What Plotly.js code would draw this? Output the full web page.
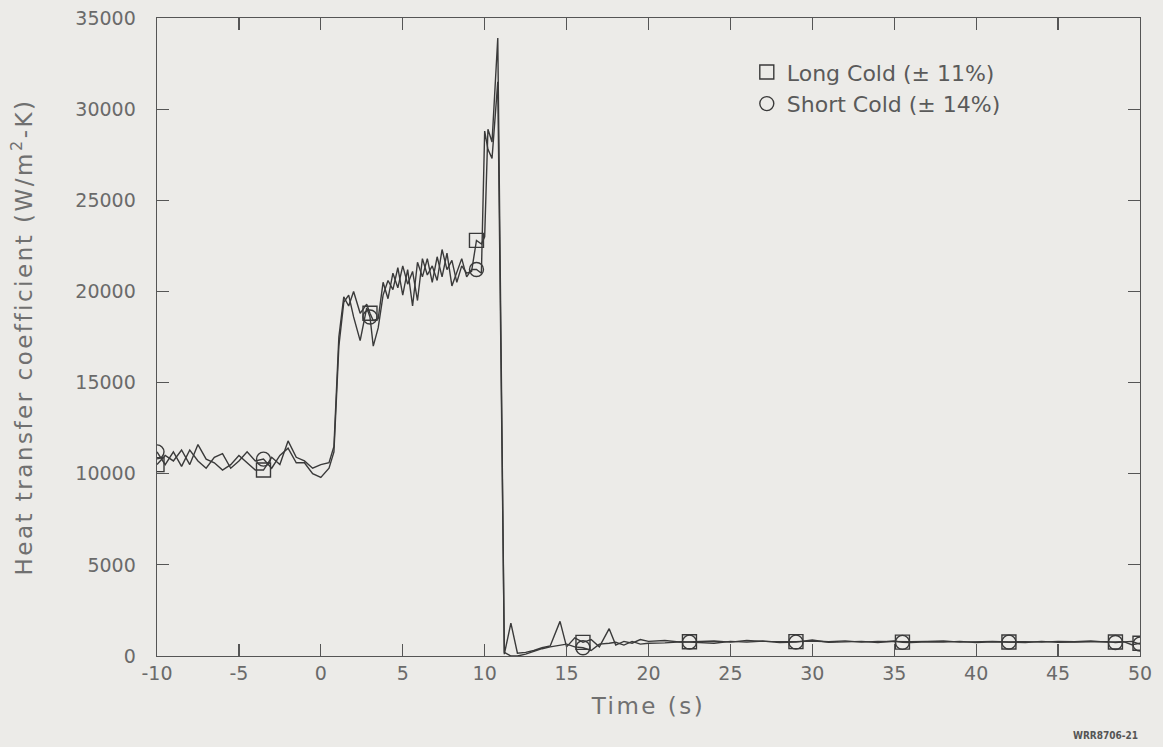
<!DOCTYPE html>
<html>
<head>
<meta charset="utf-8">
<script src="https://cdn.plot.ly/plotly-3.0.1.min.js"></script>
<style>
  html, body { margin: 0; padding: 0; background: #ecebe8; }
  #chart { width: 1163px; height: 747px; }
  /* open up the lettering of the axis titles */
  #chart .g-ytitle text { letter-spacing: 2.5px; }
  #chart .g-xtitle text { letter-spacing: 2.5px; }
</style>
</head>
<body>
<div id="chart"></div>
<script>
// Time base (s) shared by both cold-leg series
const time = [
  -10, -9.5, -9, -8.5, -8, -7.5, -7, -6.5, -6, -5.5, -5, -4.5, -4, -3.5, -3, -2.5, -2, -1.5, -1, -0.5, 0, 0.5,
  0.8, 1.1, 1.4, 1.7, 2.0, 2.4, 2.8, 3.0, 3.2, 3.5, 3.8, 4.1, 4.4, 4.7, 5.0, 5.3, 5.6, 5.9, 6.2, 6.5, 6.8,
  7.1, 7.4, 7.7, 8.0, 8.3, 8.6, 8.9, 9.2, 9.5, 9.8, 10.0, 10.2, 10.45, 10.8,
  11.2, 11.6, 12.0, 12.5, 13.0, 13.5, 14.0, 14.6, 15.0, 15.5, 16.0, 16.5, 17.0, 17.6, 18.0, 18.5, 19.0, 19.5,
  20, 21, 22, 22.5, 23, 24, 25, 26, 27, 28, 29, 30, 31, 32, 33, 34, 35, 35.5, 36, 37, 38, 39, 40,
  41, 42, 43, 44, 45, 46, 47, 48, 48.5, 49, 49.5, 50
];

// Heat transfer coefficient, long cold leg (W/m2-K)
const longCold = [
  10500, 11000, 10700, 11300, 10500, 11600, 10800, 10600, 10200, 10500, 11000, 10600, 10200, 10200, 10900, 10500, 11800, 10900, 10700, 10300, 10500, 10600,
  11500, 17500, 19700, 19200, 20000, 18800, 19300, 18800, 18400, 18500, 20500, 19600, 21000, 20200, 21400, 20400, 21100, 19500, 21800, 20900, 21400,
  20600, 22300, 21200, 21700, 20500, 21400, 21000, 21100, 22800, 22600, 23000, 28900, 28200, 33900,
  100, 1800, 150, 200, 300, 450, 550, 1900, 500, 1000, 750, 900, 500, 1500, 600, 800, 700, 900,
  800, 850, 760, 780, 790, 820, 760, 850, 800, 780, 790, 820, 780, 830, 760, 800, 780, 760, 790, 800, 820, 760, 780,
  800, 770, 790, 760, 800, 780, 820, 760, 770, 790, 620, 700
];

// Heat transfer coefficient, short cold leg (W/m2-K)
const shortCold = [
  11200, 10500, 11200, 10400, 11300, 10700, 10300, 10900, 11100, 10300, 10700, 11200, 10700, 10800, 10300, 11000, 11400, 10600, 10600, 10000, 9800, 10300,
  11200, 17000, 19400, 19800, 18600, 17300, 19100, 18600, 17000, 18000, 19800, 20600, 20100, 21300, 19800, 21200, 19200, 21600, 20800, 21800, 20500,
  21900, 20800, 22100, 20300, 21000, 21800, 20800, 21200, 21200, 21000, 28800, 27800, 27300, 31500,
  200, 0, 0, 100, 250, 400, 500, 600, 650, 500, 450, 300, 650, 700, 750, 600, 800, 650,
  700, 720, 780, 760, 750, 700, 800, 760, 820, 740, 760, 880, 750, 770, 800, 740, 820, 750, 740, 780, 760, 800, 740,
  780, 760, 740, 800, 750, 770, 760, 790, 740, 760, 800, 650
];

// Sample times that carry a symbol on each curve
const symbolTimes = [-10, -3.5, 3.0, 9.5, 16.0, 22.5, 29, 35.5, 42, 48.5, 50];

// Axis tick values
const xTicks = [-10, -5, 0, 5, 10, 15, 20, 25, 30, 35, 40, 45, 50];
const yTicks = [0, 5000, 10000, 15000, 20000, 25000, 30000, 35000];

const ink = '#3a3a3a';

function pick(values) {
  const xs = [], ys = [];
  symbolTimes.forEach(function (s) {
    const i = time.indexOf(s);
    if (i >= 0) { xs.push(time[i]); ys.push(values[i]); }
  });
  return { x: xs, y: ys };
}

const longPts = pick(longCold);
const shortPts = pick(shortCold);

const traces = [
  { x: time, y: longCold, mode: 'lines', line: { color: ink, width: 1.4 }, showlegend: false, hoverinfo: 'skip' },
  { x: time, y: shortCold, mode: 'lines', line: { color: ink, width: 1.4 }, showlegend: false, hoverinfo: 'skip' },
  { x: longPts.x, y: longPts.y, mode: 'markers', name: 'Long Cold (\u00b1 11%)',
    marker: { symbol: 'square-open', size: 14, color: ink, line: { color: ink, width: 1.4 } } },
  { x: shortPts.x, y: shortPts.y, mode: 'markers', name: 'Short Cold (\u00b1 14%)',
    marker: { symbol: 'circle-open', size: 14, color: ink, line: { color: ink, width: 1.4 } } }
];

const tickFont = { family: 'DejaVu Sans', size: 19, color: '#6a6a6a' };

const layout = {
  width: 1163,
  height: 747,
  paper_bgcolor: '#ecebe8',
  plot_bgcolor: '#ecebe8',
  margin: { l: 157, r: 23, t: 18, b: 91 },
  font: { family: 'DejaVu Sans', color: '#666' },
  showlegend: true,
  legend: {
    x: 0.60, y: 0.948, xanchor: 'left', yanchor: 'top',
    bgcolor: 'rgba(0,0,0,0)', borderwidth: 0,
    font: { family: 'DejaVu Sans', size: 22, color: '#5a5a5a' },
    tracegroupgap: 0, itemwidth: 30
  },
  xaxis: {
    range: [-10, 50], tickvals: xTicks, ticktext: xTicks.map(String),
    ticks: 'inside', ticklen: 12, tickwidth: 1.2, tickcolor: '#555',
    showline: true, linecolor: '#555', linewidth: 1.4, mirror: 'ticks',
    showgrid: false, zeroline: false, tickfont: tickFont,
    title: { text: 'Time (s)', font: { family: 'DejaVu Sans', size: 23, color: '#707070' }, standoff: 14 }
  },
  yaxis: {
    range: [0, 35000], tickvals: yTicks, ticktext: yTicks.map(String),
    ticks: 'inside', ticklen: 12, tickwidth: 1.2, tickcolor: '#555',
    showline: true, linecolor: '#555', linewidth: 1.4, mirror: 'ticks',
    showgrid: false, zeroline: false, tickfont: tickFont, ticklabelstandoff: 16,
    title: { text: 'Heat transfer coefficient (W/m<sup>2</sup>-K)', font: { family: 'DejaVu Sans', size: 23, color: '#707070' }, standoff: 36 }
  },
  annotations: [
    { text: '<b>WRR8706-21</b>', xref: 'paper', yref: 'paper', x: 1.0, y: -0.125, xanchor: 'right', yanchor: 'middle',
      showarrow: false, font: { family: 'DejaVu Sans Condensed', size: 10, color: '#555' } }
  ]
};

Plotly.newPlot('chart', traces, layout, { displayModeBar: false, staticPlot: true });
</script>
</body>
</html>
